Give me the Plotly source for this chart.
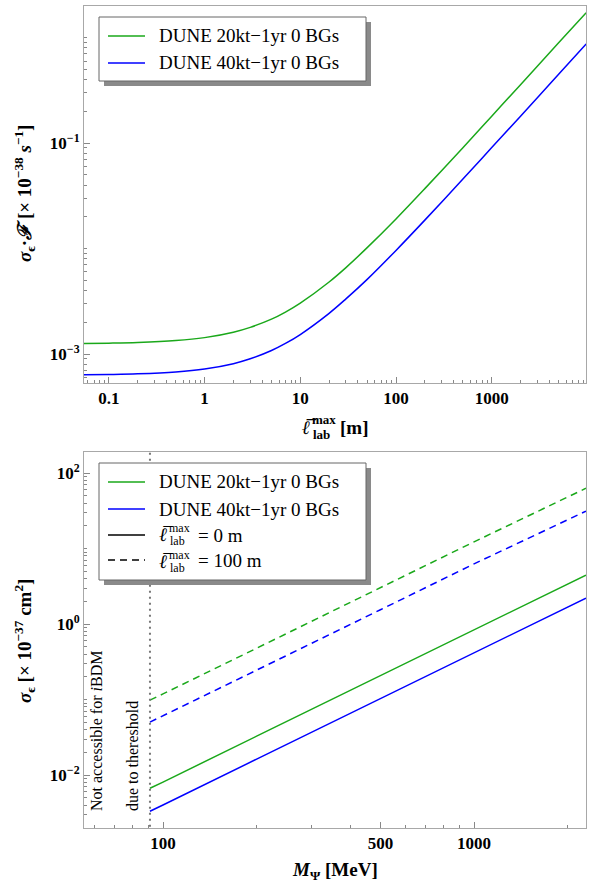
import plotly.graph_objects as go
import numpy as np

# ---------------- data ----------------
# Top panel: sigma_eps * F vs l_lab^max [m]
l_lab = [0.055, 0.1, 0.2, 0.5, 1, 2, 3, 5, 7, 10, 20, 30, 50, 100, 200, 500, 1000, 2000, 5000, 9700]
top_20kt = [1.259e-3, 1.268e-3, 1.286e-3, 1.34e-3, 1.43e-3, 1.61e-3, 1.79e-3, 2.14e-3, 2.5e-3, 3.04e-3,
            4.82e-3, 6.6e-3, 1.02e-2, 1.91e-2, 3.7e-2, 9.05e-2, 0.18, 0.358, 0.894, 1.72]
top_40kt = [6.35e-4, 6.39e-4, 6.48e-4, 6.75e-4, 7.2e-4, 8.1e-4, 9.0e-4, 1.08e-3, 1.26e-3, 1.53e-3,
            2.43e-3, 3.33e-3, 5.1e-3, 9.6e-3, 1.86e-2, 4.56e-2, 9.06e-2, 0.18, 0.45, 0.87]

# Bottom panel: sigma_eps vs M_Psi [MeV]
m_psi = [90.8, 100, 200, 500, 1000, 2290]
bot_20kt_0m = [6.7e-3, 8.1e-3, 3.28e-2, 0.207, 0.837, 4.46]
bot_40kt_0m = [3.33e-3, 4.03e-3, 1.63e-2, 0.103, 0.416, 2.21]
bot_20kt_100m = [0.0985, 0.119, 0.48, 3.03, 12.3, 63.0]
bot_40kt_100m = [0.0504, 0.061, 0.246, 1.55, 6.28, 31.4]
threshold_m = 90.8

names = ["DUNE 20kt\u22121yr 0 BGs", "DUNE 40kt\u22121yr 0 BGs"]
dist_values = ["= 0 m", "= 100 m"]

top_xticks = [0.1, 1, 10, 100, 1000]
top_xtext = ["0.1", "1", "10", "100", "1000"]
top_yticks = [1e-3, 1e-1]
top_ytext = ["10<sup>\u22123</sup>", "10<sup>\u22121</sup>"]
bot_xticks = [100, 500, 1000]
bot_xtext = ["100", "500", "1000"]
bot_yticks = [1e-2, 1, 1e2]
bot_ytext = ["10<sup>\u22122</sup>", "10<sup>0</sup>", "10<sup>2</sup>"]

GREEN = "#1aa81a"
BLUE = "#0000ff"
FONT = "Liberation Serif"
DASH = "7px,5px"

W, H = 589, 884
ML, MR, MT, MB = 84, 3, 6, 56
PW, PH = W - ML - MR, H - MT - MB


def py(px):  # pixel y -> paper y
    return (H - MB - px) / PH


def pxx(px):  # pixel x -> paper x
    return (px - ML) / PW


fig = go.Figure()

fig.add_trace(go.Scatter(x=l_lab, y=top_20kt, mode="lines", name=names[0], showlegend=False,
                         line=dict(color=GREEN, width=1.5, shape="spline"), xaxis="x", yaxis="y"))
fig.add_trace(go.Scatter(x=l_lab, y=top_40kt, mode="lines", name=names[1], showlegend=False,
                         line=dict(color=BLUE, width=1.5, shape="spline"), xaxis="x", yaxis="y"))

fig.add_trace(go.Scatter(x=m_psi, y=bot_20kt_0m, mode="lines", name=names[0] + " (0 m)", showlegend=False,
                         line=dict(color=GREEN, width=1.5), xaxis="x2", yaxis="y2"))
fig.add_trace(go.Scatter(x=m_psi, y=bot_40kt_0m, mode="lines", name=names[1] + " (0 m)", showlegend=False,
                         line=dict(color=BLUE, width=1.5), xaxis="x2", yaxis="y2"))
fig.add_trace(go.Scatter(x=m_psi, y=bot_20kt_100m, mode="lines", name=names[0] + " (100 m)", showlegend=False,
                         line=dict(color=GREEN, width=1.5, dash=DASH), xaxis="x2", yaxis="y2"))
fig.add_trace(go.Scatter(x=m_psi, y=bot_40kt_100m, mode="lines", name=names[1] + " (100 m)", showlegend=False,
                         line=dict(color=BLUE, width=1.5, dash=DASH), xaxis="x2", yaxis="y2"))
fig.add_trace(go.Scatter(x=[threshold_m, threshold_m], y=[1e-3, 1e3], mode="lines", showlegend=False,
                         name="threshold", line=dict(color="#777777", width=2, dash="2px,4px"),
                         xaxis="x2", yaxis="y2"))


def minor_vals(lo, hi):
    v = []
    for d in range(lo, hi + 1):
        for k in range(1, 10):
            v.append(k * 10.0 ** d)
    return v


frame = "#a8a8a8"
tickfont = dict(family=FONT, size=17, color="black", weight="bold")
common = dict(type="log", showgrid=False, zeroline=False, showline=True, linecolor=frame, linewidth=1,
              mirror=True, ticks="inside", ticklen=6, tickcolor="#888888", tickfont=tickfont)
minor_style = dict(ticks="inside", ticklen=3, tickcolor="#888888")

top_y0, top_y1 = py(383), 1.0
bot_y0, bot_y1 = 0.0, py(452)

fig.update_layout(
    width=W, height=H, margin=dict(l=ML, r=MR, t=MT, b=MB, autoexpand=False),
    paper_bgcolor="white", plot_bgcolor="white",
    font=dict(family=FONT, color="black"),
    showlegend=False,
    xaxis=dict(**common, domain=[0, 1], anchor="y", range=[np.log10(0.055), 3.985],
               tickvals=top_xticks, ticktext=[f"<b>{t}</b>" for t in top_xtext],
               minor=dict(**minor_style, tickvals=minor_vals(-2, 4))),
    yaxis=dict(**common, domain=[top_y0, top_y1], anchor="x", range=[-3.275, 0.30],
               tickvals=top_yticks, ticktext=[f"<b>{t}</b>" for t in top_ytext],
               minor=dict(**minor_style, tickvals=minor_vals(-4, 1))),
    xaxis2=dict(**common, domain=[0, 1], anchor="y2", range=[1.746, 3.36],
                tickvals=bot_xticks, ticktext=[f"<b>{t}</b>" for t in bot_xtext],
                minor=dict(**minor_style, tickvals=minor_vals(1, 3))),
    yaxis2=dict(**common, domain=[bot_y0, bot_y1], anchor="x2", range=[-2.70, 2.28],
                tickvals=bot_yticks, ticktext=[f"<b>{t}</b>" for t in bot_ytext],
                minor=dict(**minor_style, tickvals=minor_vals(-3, 2))),
)

shapes = []
ann = []


def legend_box(x0, x1, y0, y1):
    # drop shadow then the white box
    shapes.append(dict(type="rect", xref="paper", yref="paper", x0=pxx(x0 + 5), x1=pxx(x1 + 5),
                       y0=py(y1 + 5), y1=py(y0 + 5), fillcolor="#8a8a8a", line=dict(width=0), layer="above"))
    shapes.append(dict(type="rect", xref="paper", yref="paper", x0=pxx(x0), x1=pxx(x1),
                       y0=py(y1), y1=py(y0), fillcolor="white", line=dict(color="#666666", width=1),
                       layer="above"))


def legend_key(yc, color, dash="solid"):
    shapes.append(dict(type="line", xref="paper", yref="paper", x0=pxx(108), x1=pxx(145), y0=py(yc), y1=py(yc),
                       line=dict(color=color, width=1.5, dash=dash), layer="above"))


def text(xp, yp, s, size=19, xanchor="left", angle=0, yanchor="middle", bold=False):
    if bold:
        s = f"<b>{s}</b>"
    ann.append(dict(xref="paper", yref="paper", x=pxx(xp), y=py(yp), text=s, showarrow=False,
                    xanchor=xanchor, yanchor=yanchor, textangle=angle, borderpad=0,
                    font=dict(family=FONT, size=size, color="black")))


def lbar_label(x, yc, size=19, subsize=12, bold=False, off=6.5):
    # l-bar with stacked 'max' superscript and 'lab' subscript
    text(x, yc, "<i>\u2113\u0305</i>", size=size, bold=bold)
    text(x + 10, yc - off, "max", size=subsize, bold=bold)
    text(x + 11, yc + off, "lab", size=subsize, bold=bold)


# top legend
legend_box(99, 366, 17, 81)
legend_key(36, GREEN)
legend_key(63, BLUE)
text(158, 36, names[0])
text(158, 63, names[1])

# bottom legend
legend_box(99, 366, 463, 580)
legend_key(482, GREEN)
legend_key(509, BLUE)
legend_key(535, "black")
legend_key(560, "black", DASH)
text(158, 482, names[0])
text(158, 509, names[1])
lbar_label(158, 534.5)
text(197, 535, dist_values[0])
lbar_label(158, 561)
text(197, 560, dist_values[1])

# axis titles
text(24, 194, "<i>\u03c3</i><sub>\u03f5</sub>\u00b7<i>\u2131</i> [\u00d7 10<sup>\u221238</sup> <i>s</i><sup>\u22121</sup>]",
     xanchor="center", angle=-90, bold=True)
text(24, 641, "<i>\u03c3</i><sub>\u03f5</sub> [\u00d7 10<sup>\u221237</sup> cm<sup>2</sup>]",
     xanchor="center", angle=-90, bold=True)
lbar_label(301, 427, size=19, subsize=13, bold=True, off=7)
text(339, 427, "[m]", bold=True)
text(335, 871, "<i>M</i><sub>\u03a8</sub> [MeV]", xanchor="center", bold=True)

# threshold notes
text(96, 812, "Not accessible for <i>i</i>BDM", size=16, xanchor="center", yanchor="bottom", angle=-90)
text(132, 812, "due to thereshold", size=16, xanchor="center", yanchor="bottom", angle=-90)

fig.update_layout(shapes=shapes, annotations=ann)

fig.write_html("out.html", config={"displayModeBar": False},
               post_script="document.body.style.margin='0';document.body.style.overflow='hidden';"
                           "document.documentElement.style.overflow='hidden';")
